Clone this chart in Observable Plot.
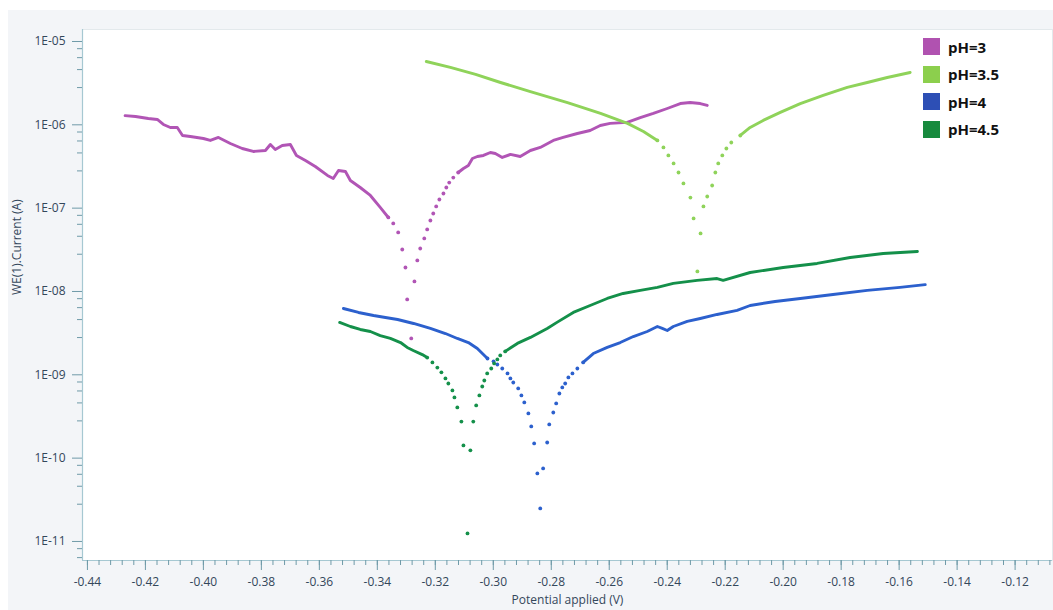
<!DOCTYPE html>
<html>
<head>
<meta charset="utf-8">
<script src="https://cdn.jsdelivr.net/npm/d3@7"></script>
<script src="https://cdn.jsdelivr.net/npm/@observablehq/plot@0.6"></script>
<style>
  html, body { margin: 0; padding: 0; background: #ffffff; width: 1053px; height: 610px; overflow: hidden; }
  #panel { position: absolute; left: 8px; top: 10px; width: 1045px; height: 600px; background: #f3f5f8; }
  #chart { position: absolute; left: 0; top: 0; }
  #legend { position: absolute; left: 923px; top: 33px; font-family: "Open Sans", sans-serif; font-weight: 700; font-size: 15px; color: #111; }
  .item { display: flex; align-items: center; height: 27.5px; }
  .sw { width: 17px; height: 17px; margin-right: 8px; }
</style>
</head>
<body>
<div id="panel"></div>
<div id="chart"></div>
<div id="legend"></div>
<script>
// ---- series ----
const seriesNames = ["pH=3", "pH=3.5", "pH=4", "pH=4.5"];

const ph3V = [-0.427,-0.4234,-0.419,-0.4159,-0.4138,-0.4114,-0.409,-0.4072,-0.4045,-0.400,-0.3976,-0.3948,-0.3907,-0.3866,-0.3828,-0.3786,-0.3769,-0.3752,-0.3728,-0.370,-0.3679,-0.3648,-0.3614,-0.3572,-0.3552,-0.3534,-0.351,-0.3493,-0.3459,-0.3424,-0.339,-0.3362,-0.3345,-0.3328,-0.3314,-0.3303,-0.3297,-0.3283,-0.3272,-0.3262,-0.3252,-0.3238,-0.3228,-0.3217,-0.3207,-0.3197,-0.3186,-0.3172,-0.3162,-0.3152,-0.3138,-0.3121,-0.3103,-0.3086,-0.3072,-0.3055,-0.3034,-0.301,-0.2993,-0.2969,-0.2941,-0.2907,-0.2872,-0.2838,-0.2793,-0.2759,-0.271,-0.2666,-0.2631,-0.2597,-0.2538,-0.2493,-0.2448,-0.24,-0.2355,-0.2321,-0.2286,-0.2262];
const ph3I = [1.29e-6,1.26e-6,1.19e-6,1.16e-6,1.01e-6,9.29e-7,9.29e-7,7.45e-7,7.24e-7,6.85e-7,6.49e-7,7.05e-7,5.97e-7,5.2e-7,4.79e-7,4.92e-7,5.81e-7,5.06e-7,5.65e-7,5.81e-7,4.29e-7,3.73e-7,3.16e-7,2.47e-7,2.27e-7,2.83e-7,2.75e-7,2.15e-7,1.77e-7,1.42e-7,1.02e-7,7.73e-8,6.55e-8,5.11e-8,3.19e-8,1.94e-8,8.02e-9,2.73e-9,1.32e-8,2.36e-8,3.28e-8,4.33e-8,5.55e-8,7.11e-8,8.63e-8,1.05e-7,1.27e-7,1.5e-7,1.77e-7,2.03e-7,2.33e-7,2.68e-7,2.99e-7,3.25e-7,3.94e-7,4.17e-7,4.29e-7,4.66e-7,4.53e-7,4.06e-7,4.41e-7,4.17e-7,4.92e-7,5.35e-7,6.49e-7,7.05e-7,7.87e-7,8.55e-7,9.82e-7,1.04e-6,1.07e-6,1.22e-6,1.37e-6,1.57e-6,1.8e-6,1.85e-6,1.8e-6,1.71e-6];
const ph3Sparse = [-0.3362, -0.3121];

const ph35V = [-0.3231,-0.3148,-0.3061,-0.2975,-0.2872,-0.2744,-0.263,-0.2537,-0.2482,-0.2434,-0.2413,-0.2396,-0.2378,-0.2361,-0.2344,-0.232,-0.2309,-0.2296,-0.2285,-0.2275,-0.2262,-0.2245,-0.2234,-0.2224,-0.221,-0.2196,-0.2179,-0.2148,-0.2114,-0.2069,-0.201,-0.1941,-0.1862,-0.1779,-0.171,-0.1641,-0.1562];
const ph35I = [5.75e-6,4.88e-6,4.02e-6,3.22e-6,2.51e-6,1.85e-6,1.37e-6,1.04e-6,8.32e-7,6.49e-7,5.35e-7,4.29e-7,3.44e-7,2.68e-7,1.98e-7,1.34e-7,7.52e-8,1.74e-8,4.97e-8,1.05e-7,1.38e-7,1.87e-7,2.68e-7,3.44e-7,4.29e-7,5.2e-7,6.14e-7,7.45e-7,9.29e-7,1.13e-6,1.41e-6,1.8e-6,2.25e-6,2.81e-6,3.22e-6,3.7e-6,4.25e-6];
const ph35Sparse = [-0.2434, -0.2148];

const ph4V = [-0.3517,-0.3465,-0.3413,-0.3372,-0.333,-0.3275,-0.3217,-0.3165,-0.3124,-0.3086,-0.3055,-0.302,-0.2999,-0.2986,-0.2969,-0.2951,-0.2941,-0.2931,-0.2914,-0.2903,-0.2893,-0.2879,-0.2869,-0.2859,-0.2848,-0.2838,-0.2828,-0.2814,-0.2807,-0.2793,-0.2783,-0.2772,-0.2762,-0.2752,-0.2741,-0.2727,-0.271,-0.269,-0.2655,-0.2607,-0.2562,-0.2517,-0.2469,-0.2434,-0.2417,-0.24,-0.2379,-0.2331,-0.2286,-0.2228,-0.2159,-0.2114,-0.2028,-0.1941,-0.1828,-0.171,-0.1597,-0.151];
const ph4I = [6.25e-9,5.6e-9,5.15e-9,4.88e-9,4.61e-9,4.13e-9,3.6e-9,3.13e-9,2.73e-9,2.44e-9,2.07e-9,1.57e-9,1.45e-9,1.33e-9,1.19e-9,1.04e-9,9.04e-10,8.09e-10,6.86e-10,5.65e-10,4.66e-10,3.44e-10,2.4e-10,1.5e-10,6.55e-11,2.49e-11,7.52e-11,1.54e-10,2.54e-10,3.53e-10,4.53e-10,5.97e-10,7.05e-10,7.87e-10,9.29e-10,1.04e-9,1.19e-9,1.41e-9,1.8e-9,2.13e-9,2.44e-9,2.88e-9,3.31e-9,3.8e-9,3.6e-9,3.4e-9,3.8e-9,4.37e-9,4.74e-9,5.3e-9,5.92e-9,6.79e-9,7.59e-9,8.24e-9,9.2e-9,1.03e-8,1.12e-8,1.21e-8];
const ph4Sparse = [-0.302, -0.269];

const ph45V = [-0.353,-0.3493,-0.3459,-0.3424,-0.339,-0.3355,-0.332,-0.3297,-0.3276,-0.3245,-0.3228,-0.321,-0.3193,-0.3179,-0.3165,-0.3155,-0.3141,-0.3134,-0.3124,-0.311,-0.3103,-0.3089,-0.3079,-0.3069,-0.3059,-0.3048,-0.3038,-0.3031,-0.3021,-0.3007,-0.2997,-0.2986,-0.2976,-0.2959,-0.2917,-0.2872,-0.2814,-0.2779,-0.2724,-0.2666,-0.2607,-0.2552,-0.2493,-0.2434,-0.2379,-0.2297,-0.2228,-0.2207,-0.2114,-0.2,-0.1883,-0.1769,-0.1655,-0.1537];
const ph45I = [4.25e-9,3.8e-9,3.5e-9,3.31e-9,2.96e-9,2.73e-9,2.44e-9,2.13e-9,1.96e-9,1.75e-9,1.61e-9,1.41e-9,1.22e-9,1.07e-9,9.04e-10,7.87e-10,6.49e-10,5.35e-10,4.06e-10,2.75e-10,1.42e-10,1.25e-11,1.24e-10,2.75e-10,4.29e-10,5.65e-10,7.24e-10,8.55e-10,1.04e-9,1.19e-9,1.37e-9,1.53e-9,1.71e-9,1.91e-9,2.38e-9,2.81e-9,3.6e-9,4.29e-9,5.6e-9,6.79e-9,8.24e-9,9.46e-9,1.03e-8,1.12e-8,1.25e-8,1.36e-8,1.43e-8,1.36e-8,1.69e-8,1.94e-8,2.17e-8,2.56e-8,2.86e-8,3.02e-8];
const ph45Sparse = [-0.3228, -0.2959];

// ---- ticks ----
const xTickLabels = ["-0.44","-0.42","-0.40","-0.38","-0.36","-0.34","-0.32","-0.30","-0.28","-0.26","-0.24","-0.22","-0.20","-0.18","-0.16","-0.14","-0.12"];
const yTickLabels = ["1E-05","1E-06","1E-07","1E-08","1E-09","1E-10","1E-11"];
const yMinorFactors = [0.82, 0.64, 0.46, 0.28];
const xDomain = [-0.4417, -0.1071];
const yDomain = [5.91e-12, 1.393e-5];

// ---- styles ----
const seriesColors = ["#b155b5", "#8fd35a", "#2c60cd", "#14904a"];
const legendColors = ["#b052b0", "#8ccf4d", "#2d4fb5", "#178a3e"];

// ---- build tables ----
function build(name, V, I, sparse) {
  const pts = V.map((v, i) => ({series: name, V: v, I: I[i]}));
  const line = [];
  pts.forEach(p => {
    if (p.V <= sparse[0]) line.push({...p, seg: name + "a"});
    if (p.V >= sparse[1]) line.push({...p, seg: name + "b"});
  });
  const dots = pts.filter(p => p.V >= sparse[0] && p.V <= sparse[1]);
  return {line, dots};
}
const parts = [
  build(seriesNames[0], ph3V, ph3I, ph3Sparse),
  build(seriesNames[1], ph35V, ph35I, ph35Sparse),
  build(seriesNames[2], ph4V, ph4I, ph4Sparse),
  build(seriesNames[3], ph45V, ph45I, ph45Sparse)
];
const lineRows = parts.flatMap(p => p.line);
const dotRows = parts.flatMap(p => p.dots);

const xTicks = xTickLabels.map(Number);
const yTicks = yTickLabels.map(Number);
const xMinor = d3.range(0, 84).map(i => +(-0.44 + i * 0.004).toFixed(3)).filter(v => v >= xDomain[0] && v <= xDomain[1]);
const yMinor = yTicks.flatMap(t => yMinorFactors.map(f => t * f)).filter(v => v >= yDomain[0] && v <= yDomain[1]);

const axisInk = "#6f9aa8";
const textInk = "#33475b";

const chart = Plot.plot({
  width: 1053,
  height: 610,
  marginLeft: 82,
  marginTop: 29,
  marginRight: 1,
  marginBottom: 50,
  style: {background: "transparent", fontFamily: "'Open Sans', sans-serif", fontSize: "12px", color: textInk},
  x: {type: "linear", domain: xDomain},
  y: {type: "log", domain: yDomain},
  color: {domain: seriesNames, range: seriesColors},
  marks: [
    Plot.frame({fill: "white", stroke: "#e3e9ec"}),
    Plot.ruleX([xDomain[0]], {stroke: "#a6c8d2", strokeWidth: 1.2}),
    Plot.ruleY([yDomain[0]], {stroke: "#a6c8d2", strokeWidth: 1.2}),
    Plot.axisY(yTicks, {tickSize: 10, tickPadding: 7, stroke: axisInk, fill: textInk, label: null,
      tickFormat: d => yTickLabels[yTicks.indexOf(d)]}),
    Plot.axisY(yMinor, {tickSize: 5, tickPadding: 0, stroke: axisInk, label: null, tickFormat: () => ""}),
    Plot.axisX(xTicks, {tickSize: 10, tickPadding: 7, stroke: axisInk, fill: textInk, label: null,
      tickFormat: d => xTickLabels[xTicks.indexOf(d)]}),
    Plot.axisX(xMinor, {tickSize: 5, tickPadding: 0, stroke: axisInk, label: null, tickFormat: () => ""}),
    Plot.line(lineRows, {x: "V", y: "I", z: "seg", stroke: "series", strokeWidth: 2.9, strokeLinejoin: "round", strokeLinecap: "round", clip: true}),
    Plot.dot(dotRows, {x: "V", y: "I", fill: "series", r: 1.9, clip: true}),
    Plot.text(["Potential applied (V)"], {frameAnchor: "bottom", dy: 43, fill: textInk, fontSize: 12}),
    Plot.text(["WE(1).Current (A)"], {frameAnchor: "left", dx: -65, rotate: -90, fill: textInk, fontSize: 12})
  ]
});
document.getElementById("chart").appendChild(chart);

// ---- legend ----
const legend = document.getElementById("legend");
seriesNames.forEach((n, i) => {
  const row = document.createElement("div");
  row.className = "item";
  const sw = document.createElement("div");
  sw.className = "sw";
  sw.style.background = legendColors[i];
  const t = document.createElement("span");
  t.textContent = n;
  row.appendChild(sw);
  row.appendChild(t);
  legend.appendChild(row);
});
</script>
</body>
</html>
